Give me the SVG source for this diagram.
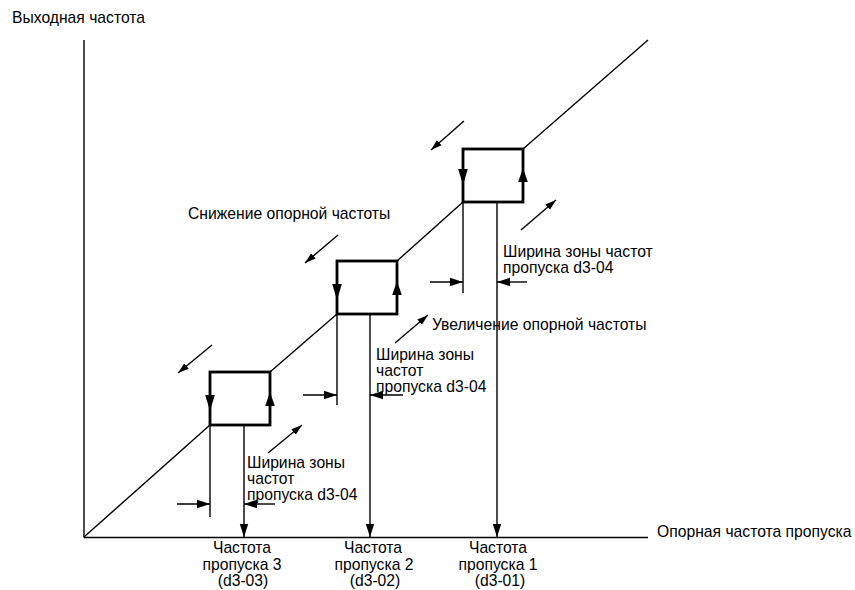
<svg xmlns="http://www.w3.org/2000/svg" width="855" height="590" viewBox="0 0 855 590">
<style>
text{font-family:"Liberation Sans",Arial,sans-serif;font-size:15.7px;fill:#000}
.thin{stroke:#000;stroke-width:1.4;fill:none}
.box{stroke:#000;stroke-width:2.8;fill:none}
.mid{text-anchor:middle}
</style>
<defs>
<marker id="ah" markerUnits="userSpaceOnUse" markerWidth="14" markerHeight="10" refX="13" refY="5" orient="auto">
<path d="M0,0.8 L13,5 L0,9.2 Z" fill="#000"/>
</marker>
<marker id="ahs" markerUnits="userSpaceOnUse" markerWidth="12" markerHeight="8" refX="11" refY="4" orient="auto">
<path d="M0,0.5 L11,4 L0,7.5 Z" fill="#000"/>
</marker>
<path id="tri-down" d="M-4.8,-16 L4.8,-16 L0,0 Z" fill="#000"/>
<path id="tri-up" d="M-4.8,14 L4.8,14 L0,0 Z" fill="#000"/>
</defs>
<rect width="855" height="590" fill="#fff"/>

<g id="axes">
<line class="thin" x1="84" y1="40" x2="84" y2="537.5"/>
<line class="thin" x1="84" y1="537.5" x2="648" y2="537.5"/>
<text x="12" y="23">Выходная частота</text>
<text x="657" y="537">Опорная частота пропуска</text>
</g>

<g id="characteristic">
<polyline class="thin" points="84,537 210,425"/>
<polyline class="thin" points="270,372 337,314"/>
<polyline class="thin" points="397,261 463,202"/>
<polyline class="thin" points="523,149 648,40"/>
</g>

<g id="box3">
<rect class="box" x="210" y="372" width="60" height="53"/>
<use href="#tri-down" x="210" y="411"/>
<use href="#tri-up" x="270" y="392"/>
</g>
<g id="box2">
<rect class="box" x="337" y="261" width="60" height="53"/>
<use href="#tri-down" x="337" y="300"/>
<use href="#tri-up" x="397" y="281"/>
</g>
<g id="box1">
<rect class="box" x="463" y="149" width="60" height="53"/>
<use href="#tri-down" x="463" y="185"/>
<use href="#tri-up" x="523" y="168"/>
</g>

<g id="connectors">
<line class="thin" x1="210" y1="425" x2="210" y2="517"/>
<line class="thin" x1="244" y1="425" x2="244" y2="537" marker-end="url(#ah)"/>
<line class="thin" x1="337" y1="314" x2="337" y2="405"/>
<line class="thin" x1="370" y1="314" x2="370" y2="537" marker-end="url(#ah)"/>
<line class="thin" x1="463" y1="202" x2="463" y2="293"/>
<line class="thin" x1="497" y1="202" x2="497" y2="537" marker-end="url(#ah)"/>
<line class="thin" x1="177" y1="504" x2="210" y2="504" marker-end="url(#ah)"/>
<line class="thin" x1="275" y1="504" x2="244" y2="504" marker-end="url(#ah)"/>
<line class="thin" x1="303" y1="395" x2="337" y2="395" marker-end="url(#ah)"/>
<line class="thin" x1="403" y1="395" x2="370" y2="395" marker-end="url(#ah)"/>
<line class="thin" x1="430" y1="282" x2="463" y2="282" marker-end="url(#ah)"/>
<line class="thin" x1="527" y1="282" x2="497" y2="282" marker-end="url(#ah)"/>
<line class="thin" x1="212" y1="345" x2="178" y2="373" marker-end="url(#ahs)"/>
<line class="thin" x1="268" y1="453" x2="302" y2="425" marker-end="url(#ahs)"/>
<line class="thin" x1="338" y1="235" x2="305" y2="263" marker-end="url(#ahs)"/>
<line class="thin" x1="395" y1="343" x2="428" y2="315" marker-end="url(#ahs)"/>
<line class="thin" x1="464" y1="121" x2="431" y2="150" marker-end="url(#ahs)"/>
<line class="thin" x1="521" y1="230" x2="556" y2="200" marker-end="url(#ahs)"/>
</g>

<g id="labels">
<text x="188" y="219">Снижение опорной частоты</text>
<text x="432" y="330">Увеличение опорной частоты</text>
<text x="247" y="468">Ширина зоны</text>
<text x="247" y="484">частот</text>
<text x="247" y="500">пропуска d3-04</text>
<text x="376" y="360">Ширина зоны</text>
<text x="376" y="376">частот</text>
<text x="376" y="392">пропуска d3-04</text>
<text x="503" y="257">Ширина зоны частот</text>
<text x="503" y="272.5">пропуска d3-04</text>
<text class="mid" x="242" y="553">Частота</text>
<text class="mid" x="242" y="570">пропуска 3</text>
<text class="mid" x="243" y="586">(d3-03)</text>
<text class="mid" x="373" y="553">Частота</text>
<text class="mid" x="374" y="570">пропуска 2</text>
<text class="mid" x="375" y="586">(d3-02)</text>
<text class="mid" x="498" y="553">Частота</text>
<text class="mid" x="498" y="570">пропуска 1</text>
<text class="mid" x="500" y="586">(d3-01)</text>
</g>
</svg>
